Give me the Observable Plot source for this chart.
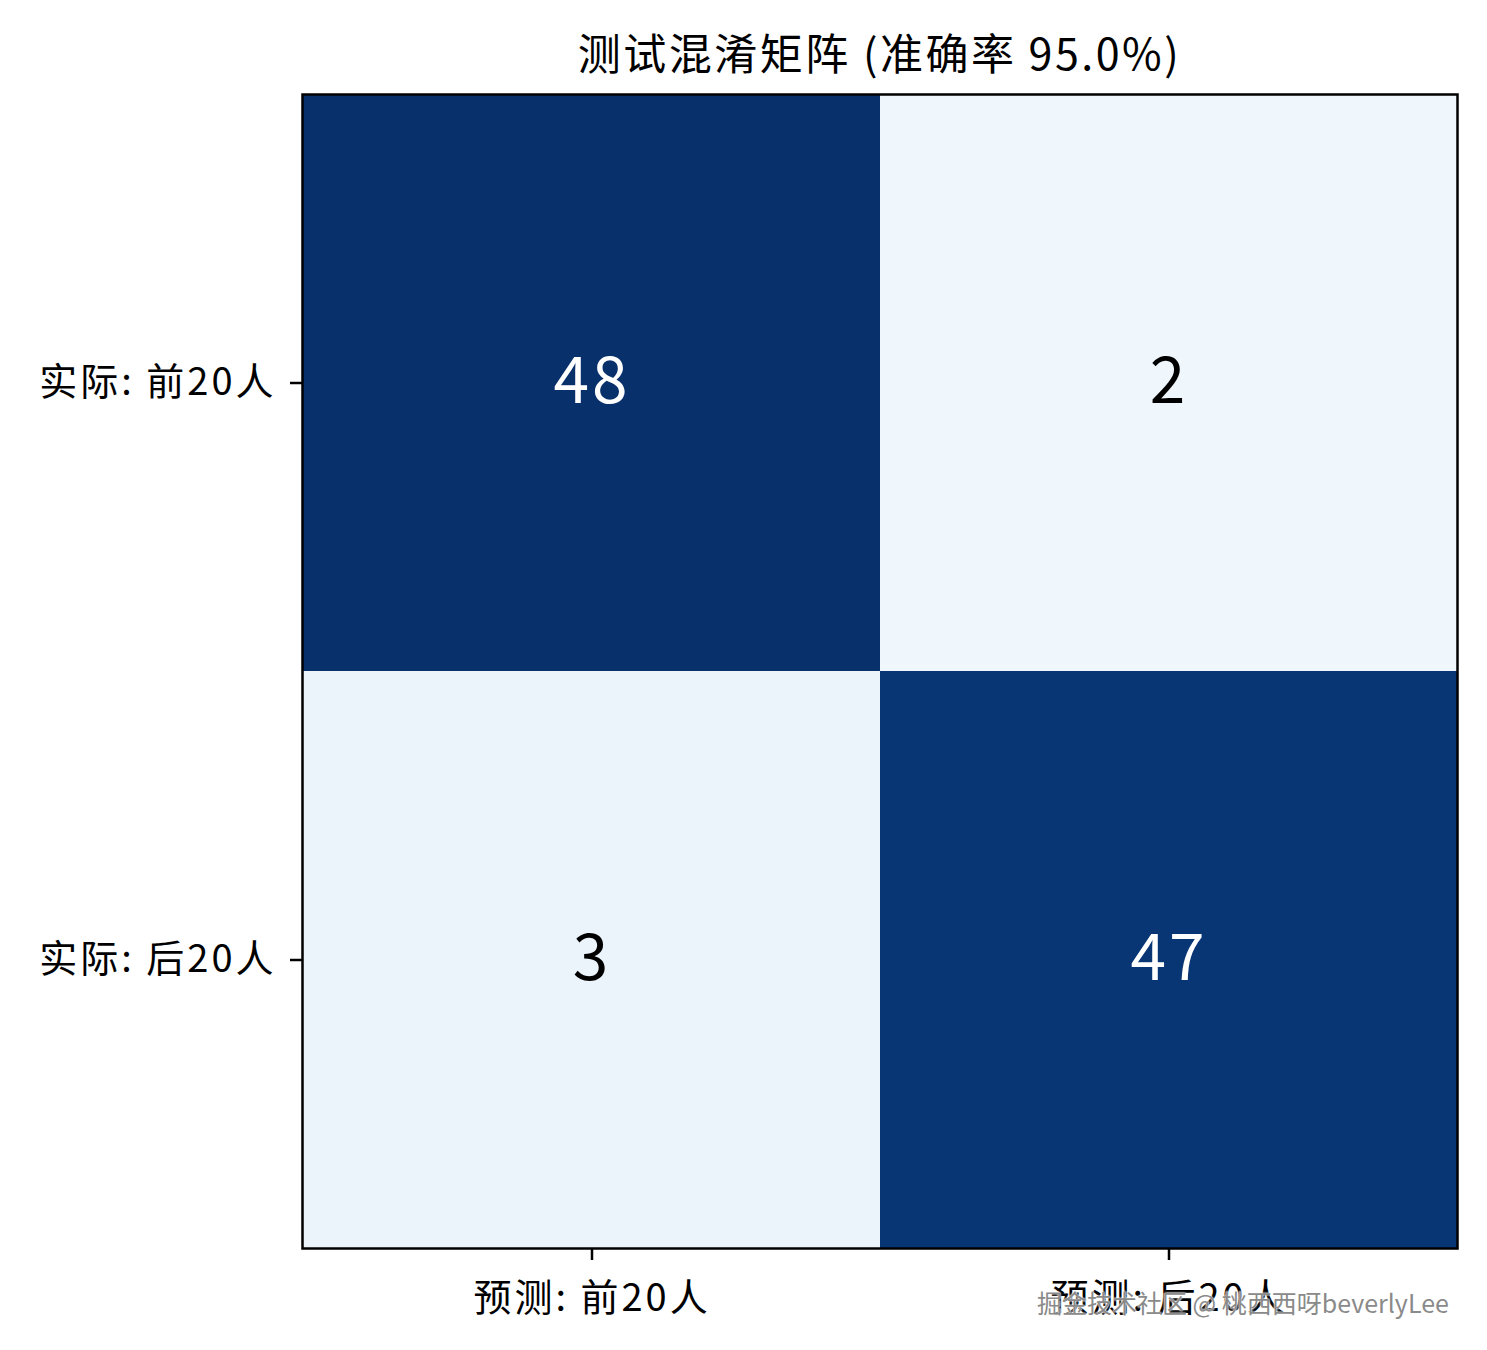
<!DOCTYPE html>
<html>
<head>
<meta charset="utf-8">
<script src="https://cdn.jsdelivr.net/npm/d3@7"></script>
<script src="https://cdn.jsdelivr.net/npm/@observablehq/plot@0.6"></script>
<style>
  body { margin: 0; background: #fff; font-family: "Noto Sans CJK SC", sans-serif; }
  #wrap { position: relative; width: 1487px; height: 1350px; }
  #title { position: absolute; left: 302px; width: 1155px; top: 26px; text-align: center; font-size: 43px; letter-spacing: 2.5px; color: #000; line-height: 1.2; }
  #chart { position: absolute; left: 0; top: 90px; }
  #wm { position: absolute; left: 1037px; top: 1284px; font-size: 25px; color: #8a8a8a; text-shadow: 0 0 2px #fff, 0 0 2px #fff; white-space: nowrap; }
</style>
</head>
<body>
<div id="wrap">
  <div id="title">测试混淆矩阵 (准确率 95.0%)</div>
  <div id="chart"></div>
  <div id="wm">掘金技术社区 @ 桃西西呀beverlyLee</div>
</div>
<script>
const predicted = ["预测: 前20人", "预测: 后20人"];
const actual = ["实际: 前20人", "实际: 后20人"];
const counts = [[48, 2], [3, 47]];

const table = [];
actual.forEach((a, i) => predicted.forEach((p, j) => table.push({actual: a, predicted: p, value: counts[i][j]})));
const vmax = d3.max(table, d => d.value);

const chart = Plot.plot({
  width: 1487,
  height: 1260,
  marginLeft: 302,
  marginRight: 30,
  marginTop: 4,
  marginBottom: 102,
  style: {fontFamily: "'Noto Sans CJK SC', sans-serif", fontSize: "38px", color: "#000", background: "#fff", letterSpacing: "3px"},
  x: {domain: predicted, padding: 0, label: null},
  y: {domain: actual, padding: 0, label: null},
  color: {type: "linear", domain: [0, vmax], interpolate: d3.interpolateBlues},
  marks: [
    Plot.cell(table, {x: "predicted", y: "actual", fill: "value", inset: 0}),
    Plot.text(table, {x: "predicted", y: "actual", text: d => String(d.value),
      fill: d => d.value > vmax / 2 ? "#fff" : "#000", fontSize: 64}),
    Plot.frame({stroke: "#000", strokeWidth: 2.5}),
    Plot.axisX({tickSize: 12, tickPadding: 24, fontSize: 38, strokeWidth: 2.5}),
    Plot.axisY({tickSize: 12, tickPadding: 14, fontSize: 38, strokeWidth: 2.5})
  ]
});
document.getElementById("chart").appendChild(chart);
</script>
</body>
</html>
